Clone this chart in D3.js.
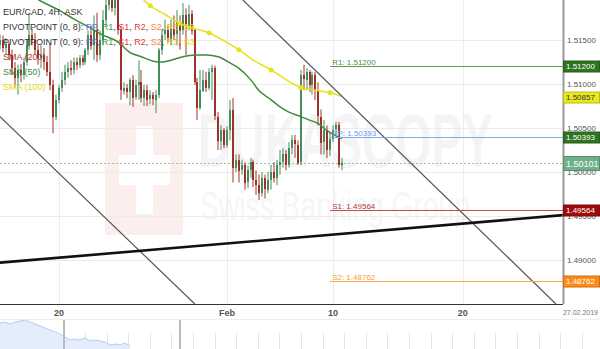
<!DOCTYPE html>
<html>
<head>
<meta charset="utf-8">
<script src="https://cdnjs.cloudflare.com/ajax/libs/d3/7.8.5/d3.min.js"></script>
<style>
  body { margin: 0; background: #fff; }
  svg { display: block; font-family: "Liberation Sans", Arial, sans-serif; }
</style>
</head>
<body>
<div class="chart"></div>
<script>
// EUR/CAD 4H candles (index = 4h bar)
var openP = [1.5144,1.5150,1.5141,1.5145,1.5133,1.5118,1.5107,1.5116,1.5110,1.5125,
  1.5144,1.5156,1.5150,1.5139,1.5130,1.5133,1.5125,1.5114,1.5099,1.5063,
  1.5082,1.5096,1.5105,1.5114,1.5118,1.5116,1.5125,1.5122,1.5130,1.5125,
  1.5139,1.5156,1.5144,1.5161,1.5133,1.5150,1.5173,1.5190,1.5201,1.5186,
  1.5195,1.5161,1.5093,1.5096,1.5091,1.5105,1.5085,1.5099,1.5102,1.5084,
  1.5093,1.5082,1.5087,1.5082,1.5088,1.5139,1.5156,1.5161,1.5152,1.5163,
  1.5156,1.5170,1.5161,1.5178,1.5166,1.5180,1.5161,1.5102,1.5072,1.5093,
  1.5105,1.5096,1.5114,1.5118,1.5063,1.5036,1.5048,1.5031,1.5048,1.5071,
  1.5005,1.5014,1.5002,1.5008,1.4988,1.5002,1.5011,1.4991,1.4985,1.4976,
  1.4993,1.4980,1.4991,1.5000,1.4993,1.5008,1.5011,1.5020,1.5008,1.5027,
  1.5036,1.5031,1.5011,1.5110,1.5105,1.5114,1.5099,1.5110,1.5093,1.5063,
  1.5034,1.5048,1.5025,1.5038,1.5048,1.5053,1.5008];
var highP = [1.5156,1.5155,1.5152,1.5148,1.5139,1.5125,1.5122,1.5123,1.5130,1.5150,
  1.5181,1.5163,1.5158,1.5144,1.5144,1.5141,1.5132,1.5147,1.5105,1.5088,
  1.5099,1.5114,1.5122,1.5125,1.5127,1.5130,1.5130,1.5133,1.5133,1.5141,
  1.5161,1.5166,1.5178,1.5181,1.5161,1.5184,1.5201,1.5213,1.5213,1.5207,
  1.5207,1.5166,1.5102,1.5100,1.5107,1.5110,1.5105,1.5127,1.5116,1.5099,
  1.5099,1.5093,1.5091,1.5093,1.5141,1.5163,1.5173,1.5166,1.5173,1.5178,
  1.5184,1.5178,1.5192,1.5186,1.5190,1.5184,1.5163,1.5107,1.5116,1.5116,
  1.5114,1.5118,1.5122,1.5121,1.5068,1.5053,1.5050,1.5052,1.5082,1.5084,
  1.5020,1.5020,1.5014,1.5011,1.5007,1.5016,1.5014,1.5002,1.4997,1.5000,
  1.4997,1.5000,1.5008,1.5011,1.5014,1.5025,1.5027,1.5025,1.5034,1.5042,
  1.5042,1.5036,1.5116,1.5122,1.5118,1.5116,1.5114,1.5114,1.5102,1.5071,
  1.5059,1.5053,1.5045,1.5053,1.5057,1.5057,1.5016];
var lowP = [1.5139,1.5136,1.5133,1.5127,1.5110,1.5096,1.5088,1.5102,1.5105,1.5121,
  1.5139,1.5144,1.5133,1.5122,1.5118,1.5116,1.5109,1.5093,1.5044,1.5059,
  1.5078,1.5091,1.5099,1.5107,1.5110,1.5111,1.5116,1.5118,1.5121,1.5122,
  1.5133,1.5139,1.5127,1.5125,1.5127,1.5144,1.5166,1.5184,1.5182,1.5178,
  1.5156,1.5082,1.5088,1.5084,1.5076,1.5074,1.5082,1.5082,1.5079,1.5075,
  1.5075,1.5077,1.5076,1.5067,1.5084,1.5133,1.5150,1.5148,1.5144,1.5150,
  1.5144,1.5139,1.5156,1.5133,1.5161,1.5156,1.5099,1.5059,1.5071,1.5091,
  1.5091,1.5093,1.5082,1.5059,1.5025,1.5025,1.5027,1.5028,1.5036,1.4988,
  1.5000,1.4988,1.4997,1.4980,1.4982,1.4993,1.4983,1.4974,1.4968,1.4972,
  1.4970,1.4976,1.4980,1.4988,1.4985,1.4997,1.5005,1.5002,1.5005,1.5020,
  1.5016,1.5008,1.5008,1.5093,1.5093,1.5091,1.5088,1.5082,1.5053,1.5020,
  1.5020,1.5016,1.5018,1.5034,1.5042,1.5005,1.5002];
var closeP = [1.5150,1.5141,1.5145,1.5133,1.5118,1.5107,1.5116,1.5110,1.5125,1.5144,
  1.5156,1.5150,1.5139,1.5130,1.5133,1.5125,1.5114,1.5099,1.5063,1.5082,
  1.5096,1.5105,1.5114,1.5118,1.5116,1.5125,1.5122,1.5130,1.5125,1.5139,
  1.5156,1.5144,1.5161,1.5133,1.5150,1.5173,1.5190,1.5201,1.5186,1.5195,
  1.5161,1.5093,1.5096,1.5091,1.5105,1.5085,1.5099,1.5102,1.5084,1.5093,
  1.5082,1.5087,1.5082,1.5088,1.5139,1.5156,1.5161,1.5152,1.5163,1.5156,
  1.5170,1.5161,1.5178,1.5166,1.5180,1.5161,1.5102,1.5072,1.5093,1.5105,
  1.5096,1.5114,1.5118,1.5063,1.5036,1.5048,1.5031,1.5048,1.5071,1.5005,
  1.5014,1.5002,1.5008,1.4988,1.5002,1.5011,1.4991,1.4985,1.4976,1.4993,
  1.4980,1.4991,1.5000,1.4993,1.5008,1.5011,1.5020,1.5008,1.5027,1.5036,
  1.5031,1.5011,1.5110,1.5105,1.5114,1.5099,1.5110,1.5093,1.5063,1.5034,
  1.5048,1.5025,1.5038,1.5048,1.5053,1.5008,1.50101];

// moving averages (sampled at bar index)
var sma50Idx = [10,13,17,20,25,30,34,40,44,48,52,55,58,62,66,70,74,78,81,85,88,92,95,98,102,105,108,111,114,116];
var sma50Val = [1.5205,1.5196,1.5189,1.5184,1.5174,1.5165,1.5157,1.5148,1.5136,1.5131,1.5126,1.5125,1.5127,1.5131,1.5133,1.5133,1.5131,1.5124,1.5118,1.5105,1.5092,1.5082,1.5074,1.5068,1.5063,1.5059,1.5055,1.5047,1.5041,1.5038];
var sma100Idx = [48,51,56,61,66,71,76,81,86,92,97,102,107,112,116];
var sma100Val = [1.5198,1.5189,1.5179,1.5169,1.5163,1.5158,1.5149,1.5139,1.5127,1.5116,1.5105,1.5096,1.5093,1.5090,1.50857];
var sma100Dots = [51,61,71,81,92,102,112];

// weekly pivot levels
var pivotNames = ["R1","PP","S1","S2"];
var pivotValues = [1.51200,1.50393,1.49564,1.48762];
var pivotStart = 112;

// trend lines [bar index, price]
var trendThin1 = [[0,1.5063],[66.1,1.4850]];
var trendThin2 = [[82.4,1.51955],[188.6,1.4850]];
var trendThick = [[0,1.4897],[191,1.4951]];

var priceTicks = [1.490,1.495,1.500,1.505,1.510,1.515];
var dateTickIdx = [20,77,113,157];
var dateTickLabels = ["20","Feb","10","20"];
var lastDate = "27.02.2019";

// navigator (overview) series
var navVals = [26,27,25,27,28,29,27,25,23,21,19,17,15,12,9,10,9,11,8,9,8,7,4,5,4,6,3];
var navSel = [12.8,36];

var width = 600, height = 349;
var plotW = 563, plotH = 304;

var svg = d3.select(".chart").append("svg")
    .attr("width", width)
    .attr("height", height);

svg.append("rect").attr("width", width).attr("height", height).attr("fill", "#fff");

var x = d3.scaleLinear().domain([0,191]).range([0,plotW]);
var y = d3.scaleLinear().domain([1.4850,1.51955]).range([plotH,0]);

svg.append("clipPath").attr("id","plotclip")
  .append("rect").attr("width", plotW).attr("height", plotH);

// watermark
var wm = svg.append("g").attr("clip-path","url(#plotclip)");
wm.append("rect").attr("x",105).attr("y",103).attr("width",78).attr("height",132).attr("fill","#fdeeee");
wm.append("rect").attr("x",136).attr("y",126).attr("width",17).attr("height",88).attr("fill","#fff");
wm.append("rect").attr("x",119).attr("y",155).attr("width",51).attr("height",30).attr("fill","#fff");
wm.append("text").attr("x",198).attr("y",167)
    .attr("font-size",76).attr("font-weight","bold").attr("fill","#f4f4f4")
    .attr("textLength",295).attr("lengthAdjust","spacingAndGlyphs")
    .text("DUKASCOPY");
wm.append("text").attr("x",200).attr("y",220)
    .attr("font-size",40).attr("fill","#f6f6f6")
    .attr("textLength",270).attr("lengthAdjust","spacingAndGlyphs")
    .text("Swiss Banking Group");

// grid
svg.append("g").selectAll("line").data(priceTicks).enter().append("line")
    .attr("x1",0).attr("x2",plotW)
    .attr("y1",d=>Math.round(y(d))+0.5).attr("y2",d=>Math.round(y(d))+0.5)
    .attr("stroke","#ececec");
svg.append("g").selectAll("line").data(dateTickIdx).enter().append("line")
    .attr("x1",d=>Math.round(x(d))+0.5).attr("x2",d=>Math.round(x(d))+0.5)
    .attr("y1",0).attr("y2",plotH)
    .attr("stroke","#ececec");

var plot = svg.append("g").attr("clip-path","url(#plotclip)");

// current price dotted line
plot.append("line")
    .attr("x1",0).attr("x2",plotW)
    .attr("y1",Math.round(y(closeP[closeP.length-1]))+0.5)
    .attr("y2",Math.round(y(closeP[closeP.length-1]))+0.5)
    .attr("stroke","#8fc79f").attr("stroke-dasharray","2,2");

// candles
var bars = d3.range(openP.length).map(function(i){
  return {i:i, o:openP[i], h:highP[i], l:lowP[i], c:closeP[i]};
});
var upCol = "#458c5c", dnCol = "#a2302a";
var cg = plot.append("g");
cg.selectAll(".wick").data(bars).enter().append("rect")
    .attr("class","wick")
    .attr("x",d=>Math.round(x(d.i))-0.5)
    .attr("width",1)
    .attr("y",d=>y(d.h))
    .attr("height",d=>y(d.l)-y(d.h))
    .attr("fill",d=>d.c>=d.o?upCol:dnCol);
cg.selectAll(".body").data(bars).enter().append("rect")
    .attr("class","body")
    .attr("x",d=>Math.round(x(d.i))-1)
    .attr("width",2)
    .attr("y",d=>Math.round(y(Math.max(d.o,d.c))))
    .attr("height",d=>Math.max(1,Math.round(Math.abs(y(d.o)-y(d.c)))))
    .attr("fill",d=>d.c>=d.o?upCol:dnCol)
    .attr("shape-rendering","crispEdges");

// SMAs
var smaLine = d3.line().x(d=>x(d[0])).y(d=>y(d[1])).curve(d3.curveMonotoneX);
plot.append("path")
    .datum(sma50Idx.map((d,k)=>[d,sma50Val[k]]))
    .attr("d",smaLine).attr("fill","none")
    .attr("stroke","#3f8a3a").attr("stroke-width",1.5);
plot.append("path")
    .datum(sma100Idx.map((d,k)=>[d,sma100Val[k]]))
    .attr("d",smaLine).attr("fill","none")
    .attr("stroke","#e6e21c").attr("stroke-width",1.5);
plot.selectAll(".smadot").data(sma100Dots).enter().append("circle")
    .attr("cx",d=>x(d))
    .attr("cy",function(d){
      var k = sma100Idx.indexOf(d);
      if (k >= 0) return y(sma100Val[k]);
      var j = d3.bisectLeft(sma100Idx,d);
      var t = (d-sma100Idx[j-1])/(sma100Idx[j]-sma100Idx[j-1]);
      return y(sma100Val[j-1]+t*(sma100Val[j]-sma100Val[j-1]));
    })
    .attr("r",2.5).attr("fill","#e6e21c");

// trend lines
var tl = d3.line().x(d=>x(d[0])).y(d=>y(d[1]));
plot.append("path").datum(trendThin1).attr("d",tl).attr("stroke","#555").attr("stroke-width",1.2).attr("fill","none");
plot.append("path").datum(trendThin2).attr("d",tl).attr("stroke","#555").attr("stroke-width",1.2).attr("fill","none");

// pivot lines
var pivotCols = ["#5a9e46","#7ea8f2","#c0504d","#ffa64d"];
var pivotText = ["#4a8f3a","#6f9df0","#b03a3a","#ff9a3a"];
pivotValues.forEach(function(v,k){
  var yy = Math.round(y(v))+0.5;
  plot.append("line").attr("x1",x(pivotStart)).attr("x2",plotW)
    .attr("y1",yy).attr("y2",yy)
    .attr("stroke",pivotCols[k]).attr("stroke-width",1.2);
  plot.append("text").attr("x",x(pivotStart)+2).attr("y",yy-2)
    .attr("font-size",8).attr("fill",pivotText[k])
    .text(pivotNames[k] + ": " + v.toFixed(5));
});

plot.append("path").datum(trendThick).attr("d",tl).attr("stroke","#111").attr("stroke-width",2.6).attr("fill","none");

// legend
var legend = svg.append("g").attr("font-size",9);
legend.append("text").attr("x",3).attr("y",15).attr("fill","#333").text("EUR/CAD, 4H, ASK");
var pivParts = [["PP","#4a86e8"],["R1","#3c9a3c"],["S1","#e04040"],["R2","#e04040"],["S2","#f08a3c"],["R3","#e8b800"],["S3","#e8dc00"]];
["PIVOTPOINT (0, 8): ","PIVOTPOINT (0, 9): "].forEach(function(lbl,r){
  var t = legend.append("text").attr("x",3).attr("y",30+r*15);
  t.append("tspan").attr("fill","#333").text(lbl);
  pivParts.forEach(function(p,k){
    if (k>0) t.append("tspan").attr("fill","#333").text(", ");
    t.append("tspan").attr("fill",p[1]).text(p[0]);
  });
});
legend.append("text").attr("x",3).attr("y",60).attr("fill","#a83a3a").text("SMA (200)");
legend.append("text").attr("x",3).attr("y",75).attr("fill","#3f8a3a").text("SMA (50)");
legend.append("text").attr("x",3).attr("y",90).attr("fill","#e0dc10").text("SMA (100)");

// axes
svg.append("line").attr("x1",0).attr("x2",plotW).attr("y1",plotH+0.5).attr("y2",plotH+0.5).attr("stroke","#333");
svg.append("line").attr("x1",plotW+0.5).attr("x2",plotW+0.5).attr("y1",0).attr("y2",plotH).attr("stroke","#999").attr("stroke-width",2);

svg.append("g").selectAll("text").data(dateTickIdx).enter().append("text")
    .attr("x",d=>x(d)).attr("y",316)
    .attr("text-anchor","middle").attr("font-size",9).attr("font-weight","bold").attr("fill","#555")
    .text((d,k)=>dateTickLabels[k]);
svg.append("text").attr("x",598).attr("y",315).attr("text-anchor","end")
    .attr("font-size",7).attr("fill","#777").text(lastDate);

svg.append("g").selectAll("text").data(priceTicks).enter().append("text")
    .attr("x",567).attr("y",d=>y(d)+3)
    .attr("font-size",8).attr("fill","#555")
    .text(d=>d.toFixed(5));

// price boxes
var boxes = [
  {v:pivotValues[0], bg:"#2f7420", fg:"#fff", big:false},
  {v:sma100Val[sma100Val.length-1], bg:"#e8e81e", fg:"#333", big:false},
  {v:pivotValues[1], bg:"#2f7420", fg:"#fff", big:false},
  {v:closeP[closeP.length-1], bg:"#6fb08a", fg:"#fff", big:true},
  {v:pivotValues[2], bg:"#a00a0a", fg:"#fff", big:false},
  {v:pivotValues[3], bg:"#ff8a1a", fg:"#fff", big:false}
];
boxes.forEach(function(b){
  var h = b.big ? 14 : 11;
  var yy = Math.round(y(b.v));
  svg.append("rect").attr("x",plotW+0.5).attr("y",yy-h/2+0.5).attr("width",width-plotW-1).attr("height",h)
    .attr("fill",b.bg).attr("stroke",d3.color(b.bg).darker(0.6));
  svg.append("text").attr("x",plotW+3).attr("y",yy+(b.big?4:3))
    .attr("font-size",b.big?9:8).attr("fill",b.fg)
    .text(b.v.toFixed(5));
});

// navigator
var nx = d3.scaleLinear().domain([0,120]).range([0,600]);
var ny = d3.scaleLinear().domain([0,30]).range([349,319]);
var nav = svg.append("g");
nav.append("line").attr("x1",0).attr("x2",width).attr("y1",319.5).attr("y2",319.5).attr("stroke","#eee");
nav.selectAll(".wk").data(d3.range(1,28)).enter().append("line")
    .attr("x1",d=>Math.round(nx(d*4.32-0.3))+0.5).attr("x2",d=>Math.round(nx(d*4.32-0.3))+0.5)
    .attr("y1",333).attr("y2",349).attr("stroke","#e4e4e4");
nav.append("path").datum(navVals)
    .attr("d",d3.area().x((d,k)=>nx(k)).y0(349).y1(d=>ny(d)))
    .attr("fill","#e3edfb");
nav.append("path").datum(navVals)
    .attr("d",d3.line().x((d,k)=>nx(k)).y(d=>ny(d)))
    .attr("fill","none").attr("stroke","#b3cdf2");
nav.selectAll(".handle").data(navSel).enter().append("line")
    .attr("x1",d=>nx(d)).attr("x2",d=>nx(d))
    .attr("y1",320).attr("y2",349).attr("stroke","#bbb").attr("stroke-width",2);
</script>
</body>
</html>
